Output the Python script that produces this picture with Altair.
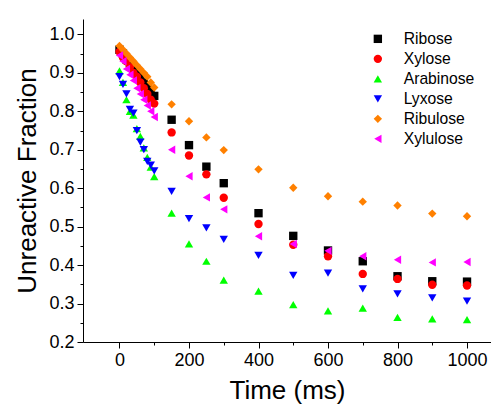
import altair as alt
import pandas as pd

series_names = ["Ribose", "Xylose", "Arabinose", "Lyxose", "Ribulose", "Xylulose"]
series_colors = ["#000000", "#ff0000", "#00ff00", "#0000ff", "#ff8000", "#ff00ff"]
series_shapes = ["square", "circle", "triangle-up", "triangle-down", "diamond", "triangle-left"]

times = [0, 10, 20, 30, 40, 50, 60, 70, 80, 90, 100,
         150, 200, 250, 300, 400, 500, 600, 700, 800, 900, 1000]

ribose = [0.960, 0.950, 0.935, 0.925, 0.910, 0.900, 0.890, 0.875, 0.865, 0.850, 0.840,
          0.778, 0.712, 0.656, 0.613, 0.535, 0.476, 0.438, 0.410, 0.371, 0.358, 0.357]
xylose = [0.955, 0.940, 0.930, 0.915, 0.900, 0.890, 0.875, 0.860, 0.845, 0.830, 0.820,
          0.745, 0.685, 0.636, 0.575, 0.507, 0.453, 0.423, 0.377, 0.364, 0.349, 0.347]
arabinose = [0.905, 0.875, 0.830, 0.800, 0.790, 0.755, 0.735, 0.705, 0.680, 0.655, 0.630,
             0.535, 0.455, 0.410, 0.361, 0.332, 0.297, 0.281, 0.288, 0.264, 0.260, 0.258]
lyxose = [0.890, 0.870, 0.845, 0.805, 0.795, 0.750, 0.720, 0.700, 0.670, 0.660, 0.645,
          0.592, 0.521, 0.497, 0.467, 0.425, 0.373, 0.379, 0.338, 0.325, 0.315, 0.306]
ribulose = [0.970, 0.960, 0.950, 0.940, 0.930, 0.920, 0.910, 0.900, 0.890, 0.875, 0.862,
            0.818, 0.774, 0.732, 0.699, 0.649, 0.601, 0.579, 0.565, 0.555, 0.534, 0.527]
xylulose = [0.945, 0.930, 0.910, 0.895, 0.880, 0.860, 0.845, 0.830, 0.815, 0.800, 0.785,
            0.700, 0.631, 0.576, 0.545, 0.475, 0.455, 0.437, 0.423, 0.414, 0.407, 0.408]

x_ticks = [0, 100, 200, 300, 400, 500, 600, 700, 800, 900, 1000]
y_ticks = [0.2, 0.25, 0.3, 0.35, 0.4, 0.45, 0.5, 0.55, 0.6, 0.65, 0.7, 0.75,
           0.8, 0.85, 0.9, 0.95, 1.0]

values = [ribose, xylose, arabinose, lyxose, ribulose, xylulose]
rows = []
for k, (name, vals) in enumerate(zip(series_names, values)):
    for t, v in zip(times, vals):
        rows.append({"series": name, "time": t, "fraction": v, "k": k})
df = pd.DataFrame(rows)

FONT = "Liberation Sans"

legend = alt.Legend(
    title=None, orient="none", legendX=287, legendY=12,
    labelFontSize=15.7, labelFont=FONT, labelColor="black",
    symbolSize=70, rowPadding=3, labelOffset=18,
)

chart = alt.Chart(df).mark_point(filled=True, opacity=1, size=70).encode(
    x=alt.X("time:Q", title="Time (ms)",
            scale=alt.Scale(domain=[-105, 1069], nice=False, zero=False),
            axis=alt.Axis(values=x_ticks, format="d",
                          labelExpr="datum.value % 200 === 0 ? datum.label : ''",
                          tickSize={"condition": {"test": "datum.value % 200 !== 0", "value": 3}, "value": 6},
                          labelFlush=False)),
    y=alt.Y("fraction:Q", title="Unreactive Fraction",
            scale=alt.Scale(domain=[0.2, 1.04], nice=False, zero=False),
            axis=alt.Axis(values=y_ticks, format=".1f",
                          labelExpr="round(datum.value*100) % 10 === 0 ? datum.label : ''",
                          tickSize={"condition": {"test": "round(datum.value*100) % 10 !== 0", "value": 3}, "value": 6},
                          labelFlush=False)),
    color=alt.Color("series:N", scale=alt.Scale(domain=series_names, range=series_colors), legend=legend),
    shape=alt.Shape("series:N", scale=alt.Scale(domain=series_names, range=series_shapes), legend=legend),
    order=alt.Order("k:Q"),
).properties(
    width=408, height=323,
    autosize=alt.AutoSizeParams(type="none"),
    padding={"left": 75, "top": 11, "right": 0, "bottom": 66},
).configure_view(stroke=None).configure_axis(
    grid=False, domainColor="black", tickColor="black", labelColor="black", titleColor="black",
    labelFont=FONT, titleFont=FONT, labelFontSize=18, titleFontSize=26, titleFontWeight="normal",
    labelPadding=3, titlePadding=8,
)

chart.save("out.html", embed_options={"renderer": "svg", "actions": False})
